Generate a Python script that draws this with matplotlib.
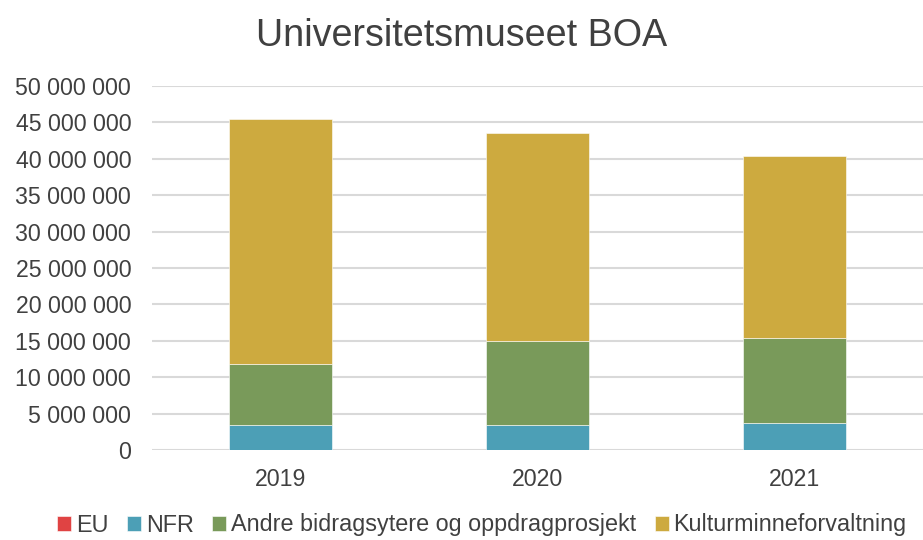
import matplotlib.pyplot as plt
from matplotlib.ticker import FuncFormatter

plt.rcParams['font.family'] = ['Liberation Sans', 'DejaVu Sans']

years = ['2019', '2020', '2021']
eu = [0, 0, 0]
nfr = [3450000, 3450000, 3750000]
andre = [8350000, 11550000, 11600000]
kultur = [33600000, 28500000, 25050000]

series = [
    ('EU', eu, '#E04343'),
    ('NFR', nfr, '#4C9FB6'),
    ('Andre bidragsytere og oppdragprosjekt', andre, '#799A5A'),
    ('Kulturminneforvaltning', kultur, '#CDAA3F'),
]

text_col = '#404040'

fig = plt.figure(figsize=(9.23, 5.4), dpi=100)
ax = fig.add_axes([152 / 923, 90 / 540, 771 / 923, 364 / 540])

x = list(range(len(years)))
bottom = [0] * len(years)
for name, vals, col in series:
    ax.bar(x, vals, 0.4, bottom=bottom, color=col, label=name, zorder=3,
           edgecolor='white', linewidth=0.4)
    bottom = [b + v for b, v in zip(bottom, vals)]

ax.set_xlim(-0.5, 2.5)
ax.set_ylim(0, 50000000)
ax.set_yticks(range(0, 50000001, 5000000))
ax.yaxis.set_major_formatter(FuncFormatter(lambda v, p: f'{int(v):,}'.replace(',', ' ')))
ax.set_xticks(x)
ax.set_xticklabels(years)
ax.tick_params(axis='both', length=0, labelsize=16.7, colors=text_col)
ax.tick_params(axis='x', pad=13)
ax.tick_params(axis='y', pad=15)
ax.grid(axis='y', color='#D9D9D9', linewidth=1.5, zorder=0)
for s in ax.spines.values():
    s.set_visible(False)

fig.text(0.5, 1 - 36 / 540, 'Universitetsmuseet BOA', ha='center', va='center',
         fontsize=27.2, color=text_col)

fig.legend(loc='center', bbox_to_anchor=(0.522, 15 / 540), ncol=4, frameon=False,
           fontsize=16.8, handlelength=0.6, handleheight=0.6, handletextpad=0.2,
           columnspacing=0.8, labelcolor=text_col)

fig.savefig('out.png', dpi=100, facecolor='white')
